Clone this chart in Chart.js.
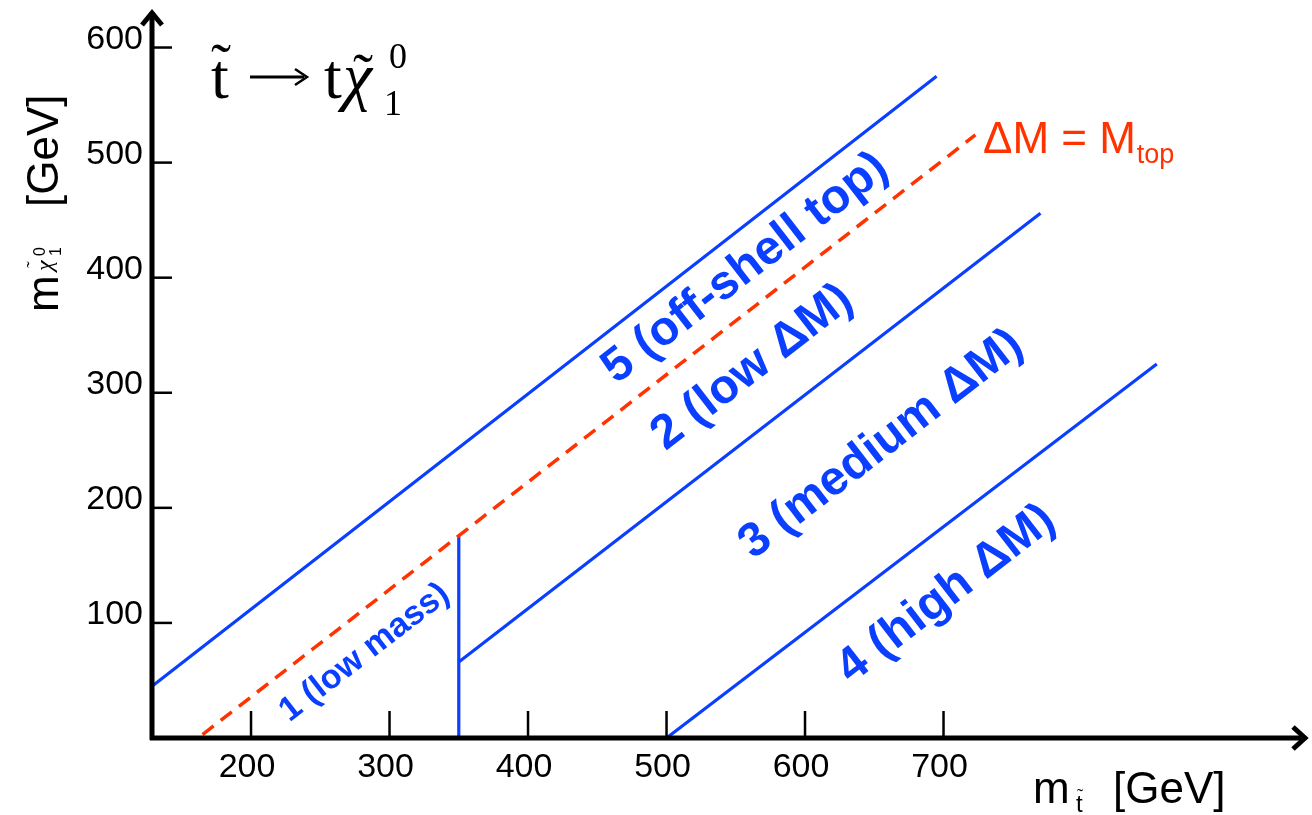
<!DOCTYPE html>
<html>
<head>
<meta charset="utf-8">
<script src="https://cdn.jsdelivr.net/npm/chart.js@4.4.1/dist/chart.umd.min.js"></script>
<style>
  html, body { margin: 0; padding: 0; background: #fff; }
  canvas { display: block; }
</style>
</head>
<body>
<canvas id="chart" width="1312" height="815"></canvas>
<script>
// axis ticks
const xTicks = [200, 300, 400, 500, 600, 700];
const yTicks = [100, 200, 300, 400, 500, 600];

// boundary lines (stop mass, neutralino mass)
const line5X = [128.5, 695];
const line5Y = [45, 575];
const topX = [165, 723];
const topY = [3, 524];
const cutX = [350, 350];
const cutY = [0, 175.5];
const line2X = [350, 770];
const line2Y = [66, 456];
const line4X = [500, 854];
const line4Y = [0, 325];

// region labels
const regionText = ['5 (off-shell top)', '2 (low ΔM)', '3 (medium ΔM)', '4 (high ΔM)', '1 (low mass)'];
const regionX = [557, 562, 655, 702, 282];
const regionY = [408, 322, 255, 125, 74];

const BLUE = '#0a3fff';
const RED = '#ff3300';
const SANS = 'Arial, "Liberation Sans", Helvetica, sans-serif';

function pts(xs, ys) {
    return xs.map((x, i) => ({ x: x, y: ys[i] }));
}

// axes, ticks, labels and titles drawn on top of the scales
const decor = {
    id: 'decor',
    afterDatasetsDraw(chart) {
        const ctx = chart.ctx;
        const xs = chart.scales.x;
        const ys = chart.scales.y;
        const x0 = xs.left, y0 = ys.bottom;

        ctx.save();
        ctx.strokeStyle = '#000';
        ctx.fillStyle = '#000';
        ctx.lineCap = 'butt';

        // tick marks
        ctx.lineWidth = 2.5;
        xTicks.forEach(v => {
            const px = xs.getPixelForValue(v);
            ctx.beginPath(); ctx.moveTo(px, y0); ctx.lineTo(px, y0 - 27); ctx.stroke();
        });
        yTicks.forEach(v => {
            const py = ys.getPixelForValue(v);
            ctx.beginPath(); ctx.moveTo(x0, py); ctx.lineTo(x0 + 20, py); ctx.stroke();
        });

        // axes with arrow heads
        ctx.lineWidth = 5;
        ctx.lineJoin = 'miter';
        ctx.beginPath(); ctx.moveTo(x0 - 2, y0); ctx.lineTo(xs.right, y0); ctx.stroke();
        ctx.beginPath(); ctx.moveTo(x0, y0 + 2); ctx.lineTo(x0, ys.top - 1); ctx.stroke();
        ctx.beginPath();
        ctx.moveTo(xs.right - 12, y0 - 11); ctx.lineTo(xs.right, y0); ctx.lineTo(xs.right - 12, y0 + 11);
        ctx.stroke();
        ctx.beginPath();
        ctx.moveTo(x0 - 10, ys.top + 12); ctx.lineTo(x0, ys.top); ctx.lineTo(x0 + 10, ys.top + 12);
        ctx.stroke();

        // tick labels
        ctx.font = '34px ' + SANS;
        ctx.textBaseline = 'alphabetic';
        ctx.textAlign = 'center';
        xTicks.forEach(v => ctx.fillText(String(v), xs.getPixelForValue(v) - 4, y0 + 39));
        ctx.textAlign = 'right';
        yTicks.forEach(v => ctx.fillText(String(v), x0 - 9, ys.getPixelForValue(v) + 1));

        // x title
        ctx.textAlign = 'left';
        ctx.font = '44px ' + SANS;
        ctx.fillText('m', 1033, 803);
        ctx.fillText('[GeV]', 1113, 803);
        ctx.font = '24px ' + SANS;
        ctx.fillText('t', 1076, 812);
        ctx.textAlign = 'center';
        ctx.font = '20px "Liberation Serif"';
        ctx.fillText('˜', 1080, 803);

        // y title
        ctx.save();
        ctx.translate(58, 312);
        ctx.rotate(-Math.PI / 2);
        ctx.textAlign = 'left';
        ctx.font = '44px ' + SANS;
        ctx.fillText('m', 0, 0);
        ctx.fillText('[GeV]', 105, 0);
        ctx.font = 'italic 24px "Liberation Serif"';
        ctx.fillText('χ', 41, -6);
        ctx.font = '20px "Liberation Serif"';
        ctx.fillText('˜', 44, -17);
        ctx.font = '16px ' + SANS;
        ctx.fillText('1', 56, 3);
        ctx.fillText('0', 56, -13);
        ctx.restore();

        // process title
        ctx.textAlign = 'left';
        ctx.font = '64px "Liberation Serif"';
        ctx.fillText('t', 211, 98);
        ctx.fillText('t', 324, 98);
        ctx.font = 'italic 66px "Liberation Serif"';
        ctx.fillText('χ', 343, 98);
        ctx.textAlign = 'center';
        ctx.font = '60px "Liberation Serif"';
        ctx.fillText('˜', 221, 84);
        ctx.fillText('˜', 363, 94);
        ctx.textAlign = 'left';
        ctx.font = '36px "Liberation Serif"';
        ctx.fillText('1', 384, 115);
        ctx.fillText('0', 389, 68);
        ctx.lineWidth = 3;
        ctx.beginPath(); ctx.moveTo(250, 77); ctx.lineTo(304, 77); ctx.stroke();
        ctx.lineWidth = 2.5;
        ctx.beginPath(); ctx.moveTo(295, 69); ctx.lineTo(307, 77); ctx.lineTo(295, 85); ctx.stroke();

        // delta M = M_top
        ctx.fillStyle = RED;
        ctx.font = '44px ' + SANS;
        ctx.fillText('ΔM = M', 983, 153);
        const w = ctx.measureText('ΔM = M').width;
        ctx.font = '27px ' + SANS;
        ctx.fillText('top', 983 + w + 1, 163);

        // region labels, rotated along the boundary lines
        const ang = Math.atan2(
            ys.getPixelForValue(line2Y[1]) - ys.getPixelForValue(line2Y[0]),
            xs.getPixelForValue(line2X[1]) - xs.getPixelForValue(line2X[0]));
        ctx.fillStyle = BLUE;
        ctx.textAlign = 'center';
        ctx.textBaseline = 'middle';
        regionText.forEach((t, i) => {
            ctx.save();
            ctx.translate(xs.getPixelForValue(regionX[i]), ys.getPixelForValue(regionY[i]));
            ctx.rotate(ang);
            ctx.font = (i === 4 ? 'bold 34px ' : 'bold 48px ') + SANS;
            ctx.fillText(t, 0, 0);
            ctx.restore();
        });

        ctx.restore();
    }
};

const ctx = document.getElementById('chart').getContext('2d');
const chart = new Chart(ctx, {
    type: 'scatter',
    data: {
        datasets: [
            { data: pts(line5X, line5Y), borderColor: BLUE, borderWidth: 3.2 },
            { data: pts(topX, topY), borderColor: RED, borderWidth: 3.5, borderDash: [14, 9] },
            { data: pts(cutX, cutY), borderColor: BLUE, borderWidth: 3.2 },
            { data: pts(line2X, line2Y), borderColor: BLUE, borderWidth: 3.2 },
            { data: pts(line4X, line4Y), borderColor: BLUE, borderWidth: 3.2 }
        ].map(d => Object.assign(d, { showLine: true, pointRadius: 0, fill: false, clip: false }))
    },
    options: {
        responsive: false,
        animation: false,
        devicePixelRatio: 1,
        layout: { padding: { left: 152, right: 7, top: 13, bottom: 77 } },
        plugins: { legend: { display: false }, tooltip: { enabled: false } },
        scales: {
            x: { type: 'linear', min: 128.5, max: 961, display: false },
            y: { type: 'linear', min: 0, max: 630, display: false }
        }
    },
    plugins: [decor]
});
</script>
</body>
</html>
